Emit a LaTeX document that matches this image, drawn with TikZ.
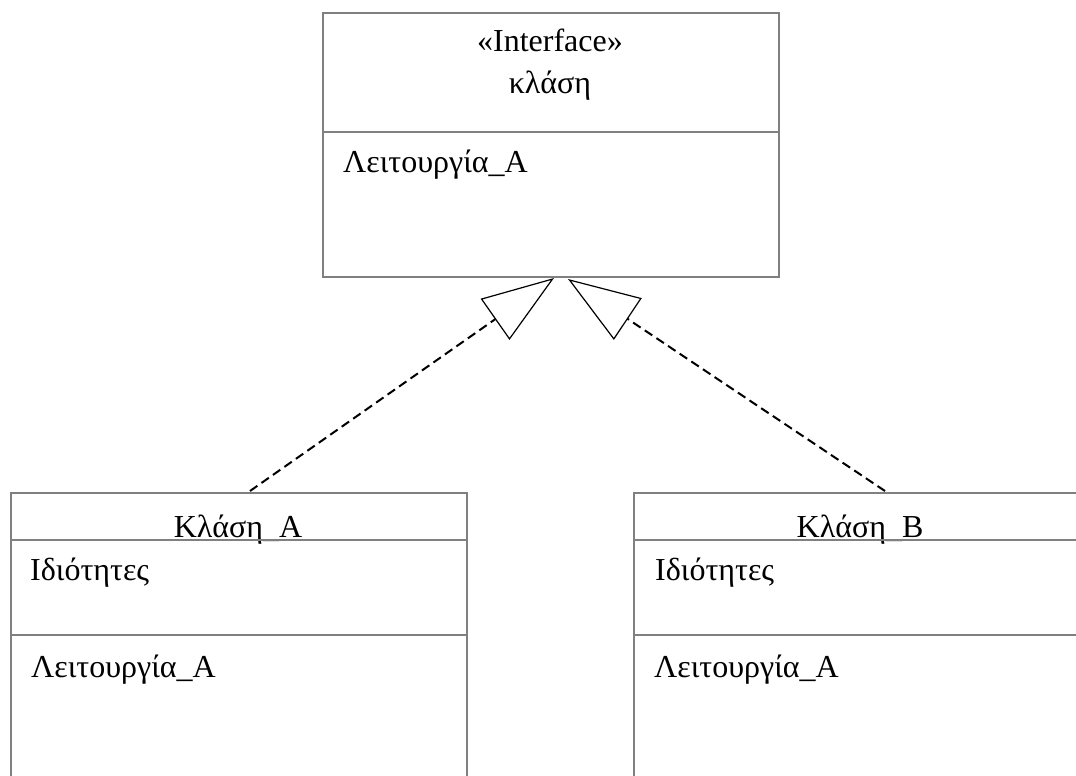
\documentclass[tikz,border=0pt]{standalone}
\usepackage{fontspec}
\setmainfont{Liberation Serif}
\usetikzlibrary{arrows.meta}

\tikzset{
  umlbox/.style={draw=boxgray, line width=2pt, anchor=north west, inner sep=0pt},
  divider/.style={draw=boxgray, line width=2pt},
  lbl/.style={inner sep=0pt, font=\fontsize{32}{36}\selectfont},
  realize/.style={line width=2pt, dash pattern=on 9pt off 5pt,
    -{Triangle[open, length=72pt, width=50pt, line width=1.2pt]}},
}
\definecolor{boxgray}{RGB}{128,128,128}

\begin{document}
\begin{tikzpicture}[x=1pt, y=-1pt]
  \useasboundingbox (0,0) rectangle (1076,776);
  \clip (0,0) rectangle (1076,776);

  % interface class
  \node[umlbox, minimum width=456pt, minimum height=264pt] (iface) at (322,12) {};
  \draw[divider] (322,132) -- (778,132);
  \node[lbl, anchor=base] (ster) at (550,52) {«Interface»};
  \node[lbl, anchor=base] (iname) at (550,93) {κλάση};
  \node[lbl, anchor=base west] (iop) at (343,172) {Λειτουργία\_A};

  % class A
  \node[umlbox, minimum width=456pt, minimum height=320pt] (clsA) at (10,492) {};
  \node[lbl, anchor=base] (aname) at (238,537) {Κλάση\_A};
  \draw[divider] (10,540) -- (466,540);
  \node[lbl, anchor=base west] (aattr) at (30,580) {Ιδιότητες};
  \draw[divider] (10,635) -- (466,635);
  \node[lbl, anchor=base west] (aop) at (31,677) {Λειτουργία\_A};

  % class B
  \node[umlbox, minimum width=456pt, minimum height=320pt] (clsB) at (633,492) {};
  \node[lbl, anchor=base] (bname) at (860,537) {Κλάση\_B};
  \draw[divider] (633,540) -- (1089,540);
  \node[lbl, anchor=base west] (battr) at (655,580) {Ιδιότητες};
  \draw[divider] (633,635) -- (1089,635);
  \node[lbl, anchor=base west] (bop) at (654,677) {Λειτουργία\_A};

  % realization connectors
  \coordinate (aTop) at (250,491);
  \coordinate (bTop) at (885,491);
  \coordinate (tipA) at (554,278);
  \coordinate (tipB) at (568,279);
  \draw[realize] (aTop) -- (tipA);
  \draw[realize] (bTop) -- (tipB);
\end{tikzpicture}
\end{document}
